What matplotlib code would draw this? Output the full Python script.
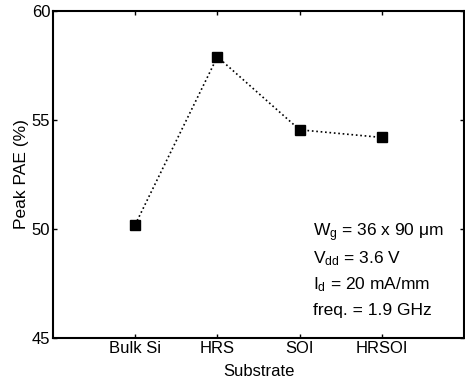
import matplotlib
matplotlib.use("Agg")
import matplotlib.pyplot as plt

substrates = ["Bulk Si", "HRS", "SOI", "HRSOI"]
peak_pae = [50.2, 57.9, 54.55, 54.2]
y_ticks = [45, 50, 55, 60]

plt.rcParams["font.family"] = ["Liberation Sans", "DejaVu Sans"]
plt.rcParams["mathtext.fontset"] = "custom"
plt.rcParams["mathtext.rm"] = "Liberation Sans"
plt.rcParams["mathtext.it"] = "Liberation Sans"

fig = plt.figure(figsize=(4.65, 3.86), dpi=100)
ax = fig.add_axes([53 / 465, 1 - 338 / 386, (464 - 53) / 465, (338 - 11) / 386])

x = list(range(1, len(substrates) + 1))
ax.plot(x, peak_pae, color="black", linestyle=":", linewidth=1.2,
        marker="s", markersize=7, markerfacecolor="black", markeredgecolor="black")

ax.set_xlim(0, 5)
ax.set_ylim(45, 60)
ax.set_xticks(x)
ax.set_xticklabels(substrates)
ax.set_yticks(y_ticks)
ax.tick_params(direction="in", top=True, right=True, length=3, width=1,
               labelsize=12, pad=2)
for s in ax.spines.values():
    s.set_linewidth(1.5)

ax.set_xlabel("Substrate", fontsize=12, labelpad=6)
ax.set_ylabel("Peak PAE (%)", fontsize=12.5, labelpad=2)

# subscripts sit low in the original, so offset them by hand
lines = [("W", "g", " = 36 x 90 μm"),
         ("V", "dd", " = 3.6 V"),
         ("I", "d", " = 20 mA/mm"),
         ("freq. = 1.9 GHz", "", "")]
for i, (head, sub, tail) in enumerate(lines):
    t = head
    if sub:
        t += r"$_{\mathrm{%s}}$" % sub
    t += tail
    ax.text(313 / 465, 1 - (233 + i * 26) / 386, t, transform=fig.transFigure,
            fontsize=12.5, va="center", ha="left")

fig.savefig("out.png", dpi=100)
